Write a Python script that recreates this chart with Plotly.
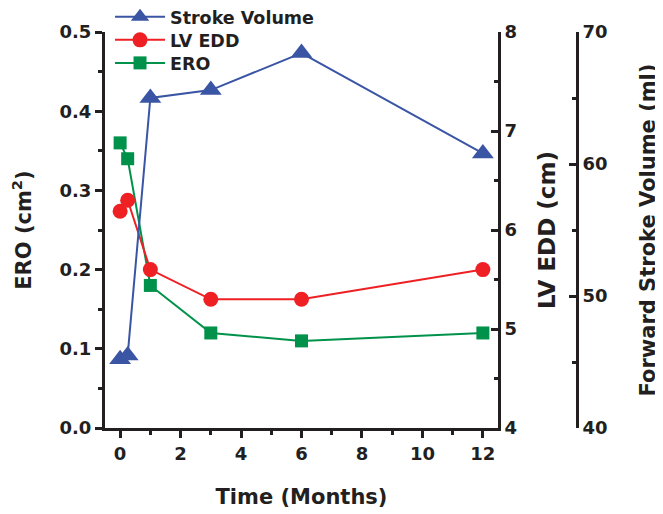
import plotly.graph_objects as go

months = [0, 0.25, 1, 3, 6, 12]
stroke_volume = [45.2, 45.5, 65.0, 65.6, 68.4, 60.8]
lv_edd = [6.19, 6.30, 5.60, 5.30, 5.30, 5.60]
ero = [0.36, 0.34, 0.18, 0.12, 0.11, 0.12]

BLUE = "#3A55A4"
RED = "#EE2024"
GREEN = "#00924A"
INK = "#231F20"
FAM = "DejaVu Sans, Liberation Sans, Arial, sans-serif"
TICKFONT = dict(family=FAM, size=18, color=INK, weight="bold")
TITLEFONT = dict(family=FAM, size=21, color=INK, weight="bold")
LEGFONT = dict(family=FAM, size=17.5, color=INK, weight="bold")

fig = go.Figure()
fig.add_trace(go.Scatter(x=months, y=stroke_volume, name="Stroke Volume", yaxis="y3",
                         legend="legend",
                         mode="lines+markers", line=dict(color=BLUE, width=2),
                         marker=dict(symbol="triangle-up", size=19, color=BLUE)))
fig.add_trace(go.Scatter(x=months, y=lv_edd, name="LV EDD", yaxis="y2",
                         legend="legend2",
                         mode="lines+markers", line=dict(color=RED, width=2),
                         marker=dict(symbol="circle", size=15, color=RED)))
fig.add_trace(go.Scatter(x=months, y=ero, name="ERO", yaxis="y",
                         legend="legend3",
                         mode="lines+markers", line=dict(color=GREEN, width=2),
                         marker=dict(symbol="square", size=13, color=GREEN)))

axis_common = dict(showgrid=False, zeroline=False, showline=True, linecolor=INK,
                   linewidth=3, tickcolor=INK, tickwidth=3, ticklen=7, tickfont=TICKFONT)

leg_common = dict(x=0.009, xanchor="left", yanchor="middle", bgcolor="rgba(0,0,0,0)",
                  font=LEGFONT, itemwidth=50)

fig.update_layout(
    width=655, height=506,
    margin=dict(l=97, r=0, t=24, b=86, autoexpand=False),
    paper_bgcolor="white", plot_bgcolor="white",
    font=TICKFONT,
    showlegend=True,
    legend=dict(y=1.0379, **leg_common),
    legend2=dict(y=0.9798, **leg_common),
    legend3=dict(y=0.9217, **leg_common),
    xaxis=dict(domain=[0, 393 / 558], range=[-0.5, 12.5], tickvals=[0, 2, 4, 6, 8, 10, 12],
               ticks="outside",
               minor=dict(dtick=1, tick0=0, ticks="outside", ticklen=4, tickwidth=3, tickcolor=INK),
               title=dict(text="Time (Months)", font=TITLEFONT, standoff=27),
               **axis_common),
    yaxis=dict(range=[0, 0.5], tickvals=[0, 0.1, 0.2, 0.3, 0.4, 0.5],
               ticktext=["0.0", "0.1", "0.2", "0.3", "0.4", "0.5"], ticks="outside",
               minor=dict(dtick=0.05, tick0=0, ticks="outside", ticklen=4, tickwidth=3, tickcolor=INK),
               title=dict(text="ERO (cm<sup>2</sup>)", font=TITLEFONT, standoff=25),
               **axis_common),
    yaxis2=dict(range=[4, 8], tickvals=[4, 5, 6, 7, 8], overlaying="y", side="right",
                anchor="x", ticks="inside",
                minor=dict(dtick=0.5, tick0=4, ticks="inside", ticklen=4, tickwidth=3, tickcolor=INK),
                title=dict(text="LV EDD (cm)", font=dict(TITLEFONT, size=23), standoff=23),
                **axis_common),
    yaxis3=dict(range=[40, 70], tickvals=[40, 50, 60, 70], overlaying="y", side="right",
                anchor="free", position=(577 - 105) / 558, ticks="inside",
                minor=dict(dtick=5, tick0=40, ticks="inside", ticklen=4, tickwidth=3, tickcolor=INK),
                title=dict(text="Forward Stroke Volume (ml)", font=TITLEFONT, standoff=33),
                **axis_common),
)

fig.write_html("out.html")
